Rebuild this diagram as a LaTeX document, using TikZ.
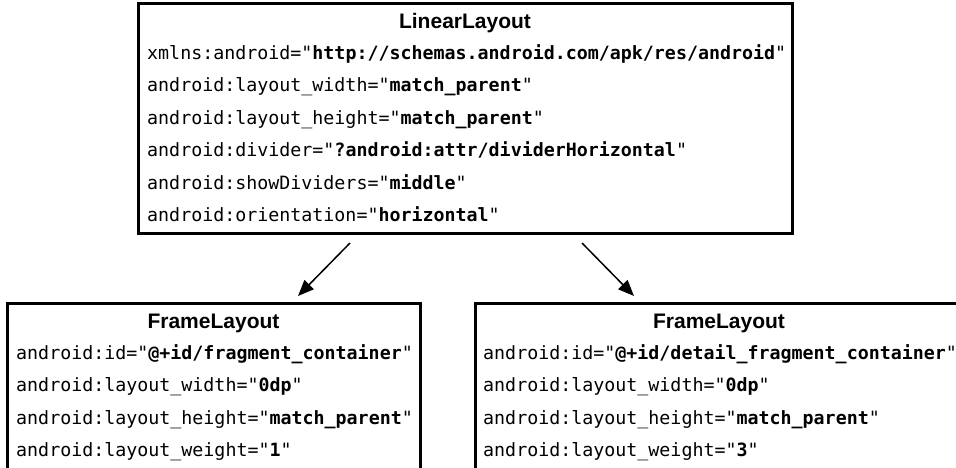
\documentclass[tikz,border=0pt]{standalone}
\usepackage{fontspec}
\setsansfont{Liberation Sans}
\setmonofont{DejaVu Sans Mono}
\usetikzlibrary{arrows.meta}
\newcommand\kv[2]{#1="\textbf{#2}"}
\begin{document}
\begin{tikzpicture}[x=1pt,y=-1pt,
  box/.style={draw, line width=3pt, inner sep=0pt, outer sep=0pt, anchor=north west},
  ttl/.style={font=\fontsize{21}{24}\selectfont\sffamily\bfseries, anchor=base, inner sep=0pt},
  ln/.style={font=\fontsize{18.3}{21}\selectfont\ttfamily, anchor=base west, inner sep=0pt},
  link/.style={line width=1.5pt, -{Triangle[length=16pt,width=13pt]}}]
\useasboundingbox (0,0) rectangle (956,467);
\begin{scope}
\clip (0,0) rectangle (956,467);
% boxes
\node[box, minimum width=654pt, minimum height=230pt] (top) at (138,3) {};
\node[box, minimum width=413pt, minimum height=250pt] (left) at (7,303) {};
\node[box, minimum width=488pt, minimum height=250pt] (right) at (475,303) {};
% top box text
\node[ttl] (t0) at (465,28) {LinearLayout};
\node[ln] (t1) at (147,59) {\kv{xmlns:android}{http://schemas.android.com/apk/res/android}};
\node[ln] (t2) at (147,91.5) {\kv{android:layout\_width}{match\_parent}};
\node[ln] (t3) at (147,124) {\kv{android:layout\_height}{match\_parent}};
\node[ln] (t4) at (147,156.5) {\kv{android:divider}{?android:attr/dividerHorizontal}};
\node[ln] (t5) at (147,189) {\kv{android:showDividers}{middle}};
\node[ln] (t6) at (147,221.5) {\kv{android:orientation}{horizontal}};
% left box text
\node[ttl] (l0) at (213.5,328) {FrameLayout};
\node[ln] (l1) at (16,359) {\kv{android:id}{@+id/fragment\_container}};
\node[ln] (l2) at (16,391.5) {\kv{android:layout\_width}{0dp}};
\node[ln] (l3) at (16,424) {\kv{android:layout\_height}{match\_parent}};
\node[ln] (l4) at (16,456.5) {\kv{android:layout\_weight}{1}};
% right box text
\node[ttl] (r0) at (719,328) {FrameLayout};
\node[ln] (r1) at (483,359) {\kv{android:id}{@+id/detail\_fragment\_container}};
\node[ln] (r2) at (483,391.5) {\kv{android:layout\_width}{0dp}};
\node[ln] (r3) at (483,424) {\kv{android:layout\_height}{match\_parent}};
\node[ln] (r4) at (483,456.5) {\kv{android:layout\_weight}{3}};
% connectors
\coordinate (la) at (350,243);
\coordinate (lb) at (298,296);
\coordinate (ra) at (582,243);
\coordinate (rb) at (634,296);
\draw[link] (la) -- (lb);
\draw[link] (ra) -- (rb);
\end{scope}
\end{tikzpicture}
\end{document}
